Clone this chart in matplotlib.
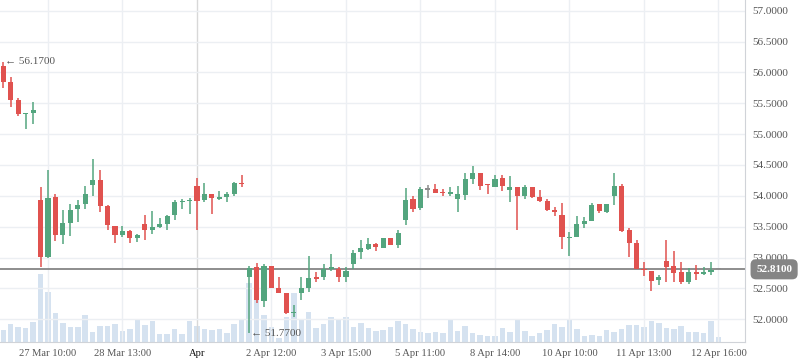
import numpy as np
import matplotlib.pyplot as plt

plt.rcParams['font.family'] = ['Liberation Serif', 'DejaVu Serif']

# hourly candles, 27 Mar .. 12 Apr
opens = [56.10, 55.85, 55.55, 55.33, 55.35, 53.93, 53.01, 53.98, 53.36, 53.56,
         53.78, 53.86, 54.18, 54.26, 53.84, 53.51, 53.37, 53.43, 53.31, 53.55,
         53.44, 53.50, 53.55, 53.69, 53.90, 53.92, 54.16, 53.93, 54.03, 53.95,
         53.98, 54.03, 54.21, 52.68, 52.85, 52.30, 52.87, 52.50, 52.42, 52.10,
         52.42, 52.50, 52.69, 52.68, 52.82, 52.81, 52.69, 52.89, 53.09, 53.14,
         53.22, 53.16, 53.32, 53.21, 53.61, 53.95, 53.81, 54.10, 54.11, 54.05,
         54.03, 53.95, 54.02, 54.27, 54.37, 54.18, 54.15, 54.29, 54.10, 54.14,
         54.00, 54.14, 53.98, 53.92, 53.77, 53.69, 53.32, 53.33, 53.55, 53.60,
         53.87, 53.74, 53.99, 54.16, 53.45, 53.24, 52.81, 52.78, 52.63, 52.95,
         52.87, 52.77, 52.61, 52.77, 52.74, 52.77, 52.81]
highs = [56.17, 55.93, 55.59, 55.35, 55.52, 54.14, 54.42, 54.03, 53.77, 53.86,
         53.93, 54.16, 54.60, 54.42, 53.85, 53.51, 53.51, 53.45, 53.38, 53.69,
         53.76, 53.64, 53.69, 53.93, 53.95, 53.97, 54.29, 54.21, 54.03, 54.08,
         54.06, 54.23, 54.34, 52.87, 52.91, 52.89, 52.87, 52.68, 52.43, 52.23,
         52.69, 53.02, 52.77, 52.90, 53.06, 52.85, 52.85, 53.12, 53.29, 53.32,
         53.23, 53.32, 53.32, 53.45, 54.13, 54.00, 54.14, 54.18, 54.19, 54.11,
         54.14, 54.16, 54.37, 54.48, 54.37, 54.19, 54.34, 54.34, 54.32, 54.14,
         54.18, 54.14, 54.10, 53.95, 53.82, 53.89, 53.41, 53.68, 53.66, 53.89,
         53.87, 53.87, 54.37, 54.19, 53.48, 53.29, 52.93, 52.78, 52.72, 53.29,
         53.11, 52.93, 52.83, 52.88, 52.85, 52.93, 52.81]
lows = [55.74, 55.44, 55.30, 55.09, 55.16, 52.84, 53.00, 53.27, 53.22, 53.35,
        53.58, 53.79, 54.00, 53.74, 53.45, 53.24, 53.33, 53.24, 53.26, 53.29,
        53.38, 53.48, 53.44, 53.61, 53.79, 53.70, 53.45, 53.90, 53.71, 53.93,
        53.90, 54.00, 54.15, 51.77, 52.27, 52.20, 52.50, 52.42, 52.09, 52.04,
        52.32, 52.44, 52.61, 52.64, 52.79, 52.60, 52.60, 52.82, 52.98, 53.12,
        53.11, 53.16, 53.21, 53.16, 53.52, 53.74, 53.77, 53.97, 54.05, 53.99,
        54.00, 53.74, 53.93, 54.19, 54.10, 54.03, 54.14, 54.08, 53.90, 53.45,
        53.95, 53.97, 53.90, 53.76, 53.67, 53.14, 53.03, 53.33, 53.48, 53.60,
        53.72, 53.72, 53.85, 53.42, 53.01, 52.82, 52.70, 52.46, 52.56, 52.61,
        52.61, 52.57, 52.57, 52.64, 52.72, 52.72, 52.81]
closes = [55.85, 55.56, 55.33, 55.34, 55.39, 53.01, 53.96, 53.37, 53.56, 53.77,
          53.85, 54.03, 54.26, 53.84, 53.52, 53.37, 53.43, 53.31, 53.36, 53.44,
          53.50, 53.55, 53.68, 53.90, 53.92, 53.93, 53.92, 54.03, 53.96, 53.98,
          54.03, 54.21, 54.19, 52.83, 52.32, 52.87, 52.50, 52.42, 52.10, 52.11,
          52.50, 52.67, 52.66, 52.81, 52.83, 52.69, 52.78, 53.07, 53.15, 53.22,
          53.17, 53.32, 53.21, 53.40, 53.93, 53.79, 54.11, 54.10, 54.05, 54.04,
          54.07, 54.03, 54.27, 54.37, 54.16, 54.17, 54.27, 54.16, 54.14, 54.00,
          54.14, 53.98, 53.92, 53.77, 53.74, 53.33, 53.33, 53.55, 53.60, 53.85,
          53.76, 53.87, 54.16, 53.43, 53.24, 52.82, 52.80, 52.62, 52.69, 52.85,
          52.75, 52.61, 52.77, 52.74, 52.77, 52.80, 52.81]
volumes = [12, 18, 15, 14, 20, 68, 50, 29, 19, 15, 15, 27, 10, 16, 16, 18, 11, 13,
           23, 17, 21, 8, 8, 13, 8, 21, 16, 13, 12, 13, 9, 18, 23, 59, 45, 27, 15,
           4, 25, 49, 23, 30, 14, 18, 25, 22, 25, 15, 19, 14, 11, 12, 15, 21, 18,
           13, 10, 9, 10, 9, 22, 11, 16, 9, 7, 6, 6, 14, 10, 23, 11, 6, 9, 12, 18,
           15, 22, 13, 6, 7, 6, 12, 10, 13, 17, 17, 15, 21, 19, 14, 13, 16, 10, 10,
           9, 21, 5]
tick_idx = [6, 16, 26, 36, 46, 56, 66, 76, 86, 96]
tick_labels = ['27 Mar 10:00', '28 Mar 13:00', 'Apr', '2 Apr 12:00', '3 Apr 15:00',
               '5 Apr 11:00', '8 Apr 14:00', '10 Apr 10:00', '11 Apr 13:00', '12 Apr 16:00']
last_price = 52.81

o = np.array(opens)
h = np.array(highs)
l = np.array(lows)
c = np.array(closes)
x = np.arange(len(o))

up_col, down_col, flat_col = '#53a57e', '#e0524f', '#8c8c8c'
cols = [up_col if cc > oo else down_col if cc < oo else flat_col for oo, cc in zip(o, c)]

fig = plt.figure(figsize=(7.98, 3.63), dpi=100)
pos = [0, 21 / 363, 745 / 798, 342 / 363]

# volume pane underneath
vax = fig.add_axes(pos)
vax.bar(x, volumes, width=0.74, color='#d5e2f0', zorder=1)
vax.set_ylim(0, max(volumes) * 342 / 68)
vax.axis('off')

ax = fig.add_axes(pos, sharex=vax)
ax.patch.set_visible(False)

ax.axhline(last_price, color='#858585', lw=1.3, zorder=2)
ax.vlines(x, l, h, colors=cols, lw=1.1, zorder=3)
body = np.maximum(np.abs(c - o), 0.02)
ax.bar(x, body, bottom=np.minimum(o, c), width=0.68, color=cols, zorder=4)

# highest / lowest markers
imax = int(np.argmax(h))
imin = int(np.argmin(l))
ax.annotate('← {:.4f}'.format(h[imax]), xy=(imax, h[imax]), xytext=(1.5, 0),
            textcoords='offset points', va='center', ha='left', fontsize=8, color='#555555')
ax.annotate('← {:.4f}'.format(l[imin]), xy=(imin, l[imin]), xytext=(1.5, 0),
            textcoords='offset points', va='center', ha='left', fontsize=8, color='#555555')

ax.set_xlim(-0.44, 99.56)
ax.set_ylim(51.632, 57.173)
ax.set_xticks(tick_idx, tick_labels)
ax.yaxis.tick_right()
ax.set_yticks(np.arange(52.0, 57.01, 0.5))
ax.yaxis.set_major_formatter('{x:.4f}')
ax.tick_params(length=0, colors='#555555')
ax.tick_params(axis='y', labelsize=8, pad=5.5)
ax.tick_params(axis='x', labelsize=7.6, pad=5)
ax.grid(color='#eceff3', lw=1, zorder=0)
ax.get_xticklabels()[2].set_color('#111111')
ax.get_xgridlines()[2].set_color('#d8d8d8')

for s in ['top', 'left']:
    ax.spines[s].set_visible(False)
for s in ['right', 'bottom']:
    ax.spines[s].set_color('#d0d3d8')

# last price tag
ax.annotate('{:.4f}'.format(last_price), xy=(1, last_price), xycoords=('axes fraction', 'data'),
            xytext=(8, 0), textcoords='offset points', va='center', ha='left',
            fontsize=8, color='white', fontweight='bold', annotation_clip=False,
            bbox=dict(boxstyle='round,pad=0.5', fc='#858585', ec='none'))

fig.savefig('out.png', dpi=100)
